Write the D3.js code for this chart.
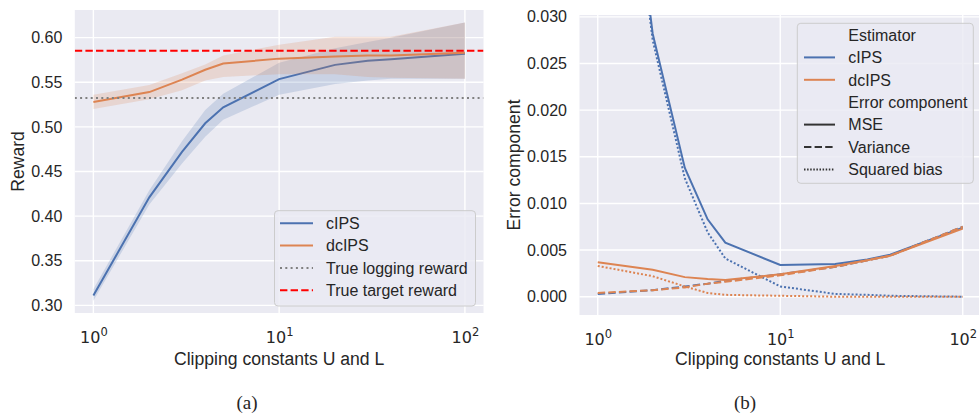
<!DOCTYPE html>
<html><head><meta charset="utf-8">
<script src="https://cdn.jsdelivr.net/npm/d3@7"></script>
<style>
body{margin:0;background:#fff;}
text{font-family:"Liberation Sans",Arial,sans-serif;fill:#262626;}
</style></head>
<body><svg id="c" width="979" height="414"></svg>
<script>
// ---------- data ----------
const clipConsts = [1, 2, 3, 4, 5, 10, 20, 30, 40, 100];
// panel (a): reward
const cipsReward   = [0.311, 0.421, 0.472, 0.504, 0.522, 0.5535, 0.5695, 0.574, 0.5758, 0.582];
const cipsLow      = [0.305, 0.413, 0.459, 0.489, 0.508, 0.536, 0.548, 0.552, 0.554, 0.554];
const cipsHigh     = [0.318, 0.429, 0.484, 0.519, 0.537, 0.572, 0.588, 0.595, 0.600, 0.617];
const dcipsReward  = [0.528, 0.539, 0.553, 0.564, 0.571, 0.5765, 0.579, 0.580, 0.580, 0.583];
const dcipsLow     = [0.520, 0.531, 0.541, 0.552, 0.556, 0.559, 0.559, 0.556, 0.555, 0.554];
const dcipsHigh    = [0.536, 0.547, 0.560, 0.570, 0.580, 0.592, 0.601, 0.601, 0.601, 0.617];
const trueLogging = 0.5324;
const trueTarget  = 0.5854;
// panel (b): error components
const cipsMSE    = [0.0753, 0.0282, 0.0138, 0.0083, 0.0058, 0.0034, 0.0035, 0.0040, 0.0045, 0.0074];
const cipsVar    = [0.0003, 0.0007, 0.0011, 0.0014, 0.0017, 0.0024, 0.0032, 0.0039, 0.0044, 0.0075];
const cipsBias2  = [0.0750, 0.0275, 0.0127, 0.0069, 0.0041, 0.0011, 0.0003, 0.0002, 0.0001, 0.0000];
const dcipsMSE   = [0.0037, 0.0029, 0.0021, 0.0019, 0.0018, 0.0024, 0.0033, 0.0039, 0.0044, 0.0073];
const dcipsVar   = [0.0004, 0.0007, 0.0010, 0.0014, 0.0016, 0.0023, 0.0032, 0.0039, 0.0044, 0.0075];
const dcipsBias2 = [0.0033, 0.0022, 0.0011, 0.0004, 0.0002, 0.0001, 0.0000, 0.0000, 0.0000, 0.0000];
// ticks / labels
const xTicks = [1, 10, 100];
const yTicksA = [0.30, 0.35, 0.40, 0.45, 0.50, 0.55, 0.60];
const yTicksB = [0.000, 0.005, 0.010, 0.015, 0.020, 0.025, 0.030];
const legendA = ["cIPS", "dcIPS", "True logging reward", "True target reward"];
const legendB = ["Estimator", "cIPS", "dcIPS", "Error component", "MSE", "Variance", "Squared bias"];

// ---------- styles ----------
const BLUE = "#4C72B0", ORANGE = "#DD8452", BG = "#EAEAF2";
const svg = d3.select("#c");

function panel(opts) {
  const g = svg.append("g");
  const x = d3.scaleLog().domain([Math.pow(10, -0.1), Math.pow(10, 2.1)]).range([opts.left, opts.right]);
  const y = d3.scaleLinear().domain(opts.ydom).range([opts.bottom, opts.top]);
  g.append("rect").attr("x", opts.left).attr("y", opts.top)
    .attr("width", opts.right - opts.left).attr("height", opts.bottom - opts.top).attr("fill", BG);
  // grid
  g.selectAll(".gx").data(xTicks).enter().append("line")
    .attr("x1", d => x(d)).attr("x2", d => x(d)).attr("y1", opts.top).attr("y2", opts.bottom)
    .attr("stroke", "#fff").attr("stroke-width", 1.4);
  g.selectAll(".gy").data(opts.yticks).enter().append("line")
    .attr("y1", d => y(d)).attr("y2", d => y(d)).attr("x1", opts.left).attr("x2", opts.right)
    .attr("stroke", "#fff").attr("stroke-width", 1.4);
  // axes
  const ya = g.append("g").attr("transform", `translate(${opts.left},0)`)
    .call(d3.axisLeft(y).tickValues(opts.yticks).tickSize(0).tickPadding(12.5).tickFormat(d3.format(opts.yfmt)));
  ya.select(".domain").remove();
  ya.selectAll("text").style("font-size", "16px").attr("fill", "#262626");
  const xa = g.append("g").attr("transform", `translate(0,${opts.bottom})`)
    .call(d3.axisBottom(x).tickValues(xTicks).tickSize(0).tickFormat(""));
  xa.select(".domain").remove();
  xa.selectAll(".tick").each(function (d) {
    const t = d3.select(this).append("text").attr("y", 30).attr("dy", 0)
      .attr("text-anchor", "middle").style("font-family", "'DejaVu Sans',sans-serif").style("font-size", "16px").attr("fill", "#262626");
    t.append("tspan").text("10");
    t.append("tspan").attr("dy", -7.5).style("font-size", "11.5px").text(String(Math.round(Math.log10(d))));
  });
  // labels
  g.append("text").attr("x", (opts.left + opts.labRight) / 2).attr("y", 365).attr("text-anchor", "middle")
    .style("font-size", "17.6px").text("Clipping constants U and L");
  g.append("text").attr("transform", `translate(${opts.ylabX},${(opts.top + opts.bottom) / 2}) rotate(-90)`)
    .attr("text-anchor", "middle").attr("dy", "0.35em").style("font-size", "17.6px").text(opts.ylab);
  const clipId = "clip" + opts.id;
  svg.append("clipPath").attr("id", clipId).append("rect")
    .attr("x", opts.left).attr("y", opts.top).attr("width", opts.right - opts.left).attr("height", opts.bottom - opts.top);
  const plot = g.append("g").attr("clip-path", `url(#${clipId})`);
  return { x, y, plot, g };
}

// ---------- panel (a) ----------
const A = panel({ id: "a", left: 74.8, right: 483.5, top: 10, bottom: 313, labRight: 483.5,
  ydom: [0.2914, 0.631], yticks: yTicksA, yfmt: ".2f", ylab: "Reward", ylabX: 18 });
const lineA = d3.line().x((d, i) => A.x(clipConsts[i])).y(d => A.y(d));
const areaA = (lo, hi) => d3.area().x((d, i) => A.x(clipConsts[i])).y0((d, i) => A.y(lo[i])).y1((d, i) => A.y(hi[i]))(clipConsts);
A.plot.append("path").attr("d", areaA(cipsLow, cipsHigh)).attr("fill", BLUE).attr("fill-opacity", 0.2);
A.plot.append("path").attr("d", lineA(cipsReward)).attr("fill", "none").attr("stroke", BLUE).attr("stroke-width", 2);
A.plot.append("path").attr("d", areaA(dcipsLow, dcipsHigh)).attr("fill", ORANGE).attr("fill-opacity", 0.2);
A.plot.append("path").attr("d", lineA(dcipsReward)).attr("fill", "none").attr("stroke", ORANGE).attr("stroke-width", 2);
A.plot.append("line").attr("x1", 74.8).attr("x2", 483.5).attr("y1", A.y(trueLogging)).attr("y2", A.y(trueLogging))
  .attr("stroke", "#808080").attr("stroke-width", 2).attr("stroke-dasharray", "2,3.3");
A.plot.append("line").attr("x1", 74.8).attr("x2", 483.5).attr("y1", A.y(trueTarget)).attr("y2", A.y(trueTarget))
  .attr("stroke", "#FF0000").attr("stroke-width", 2).attr("stroke-dasharray", "7.4,3.2");

// legend (a)
const legAStyles = [
  { c: BLUE, d: null }, { c: ORANGE, d: null }, { c: "#808080", d: "2,3.3" }, { c: "#FF0000", d: "7.4,3.2" }];
const la = svg.append("g");
la.append("rect").attr("x", 274.5).attr("y", 210.7).attr("width", 201).attr("height", 95.3).attr("rx", 3.5)
  .attr("fill", BG).attr("fill-opacity", 0.8).attr("stroke", "#CCCCCC").attr("stroke-width", 1);
legendA.forEach((name, i) => {
  const yy = 223.3 + i * 22.3;
  la.append("line").attr("x1", 280).attr("x2", 313).attr("y1", yy).attr("y2", yy)
    .attr("stroke", legAStyles[i].c).attr("stroke-width", 2).attr("stroke-dasharray", legAStyles[i].d);
  la.append("text").attr("x", 326).attr("y", yy).attr("dy", "0.36em").style("font-size", "16px").text(name);
});

// ---------- panel (b) ----------
const B = panel({ id: "b", left: 579.5, right: 981, top: 15, bottom: 315, labRight: 981,
  ydom: [-0.00196, 0.0302], yticks: yTicksB, yfmt: ".3f", ylab: "Error component", ylabX: 514 });
const lineB = d3.line().x((d, i) => B.x(clipConsts[i])).y(d => B.y(d));
const seriesB = [
  { v: cipsMSE, c: BLUE, d: null }, { v: cipsVar, c: BLUE, d: "7.4,3.2" }, { v: cipsBias2, c: BLUE, d: "2,2" },
  { v: dcipsMSE, c: ORANGE, d: null }, { v: dcipsVar, c: ORANGE, d: "7.4,3.2" }, { v: dcipsBias2, c: ORANGE, d: "2,2" }];
seriesB.forEach(s => {
  B.plot.append("path").attr("d", lineB(s.v)).attr("fill", "none").attr("stroke", s.c)
    .attr("stroke-width", 2).attr("stroke-dasharray", s.d);
});

// legend (b)
const legBStyles = [null, { c: BLUE, d: null }, { c: ORANGE, d: null }, null,
  { c: "#333333", d: null }, { c: "#333333", d: "7.4,3.2" }, { c: "#333333", d: "1.5,1.6" }];
const lb = svg.append("g");
lb.append("rect").attr("x", 797.3).attr("y", 23.3).attr("width", 176).attr("height", 160).attr("rx", 3.5)
  .attr("fill", BG).attr("fill-opacity", 0.8).attr("stroke", "#CCCCCC").attr("stroke-width", 1);
legendB.forEach((name, i) => {
  const yy = 35 + i * 22.4;
  const st = legBStyles[i];
  if (st) lb.append("line").attr("x1", 804).attr("x2", 835).attr("y1", yy).attr("y2", yy)
    .attr("stroke", st.c).attr("stroke-width", 2).attr("stroke-dasharray", st.d);
  lb.append("text").attr("x", 848.3).attr("y", yy).attr("dy", "0.36em").style("font-size", "16px").text(name);
});

// captions
svg.append("text").attr("x", 247).attr("y", 409).attr("text-anchor", "middle")
  .style("font-family", "'Liberation Serif',serif").style("font-size", "19px").attr("fill", "#000").text("(a)");
svg.append("text").attr("x", 745).attr("y", 409).attr("text-anchor", "middle")
  .style("font-family", "'Liberation Serif',serif").style("font-size", "19px").attr("fill", "#000").text("(b)");
</script></body></html>
